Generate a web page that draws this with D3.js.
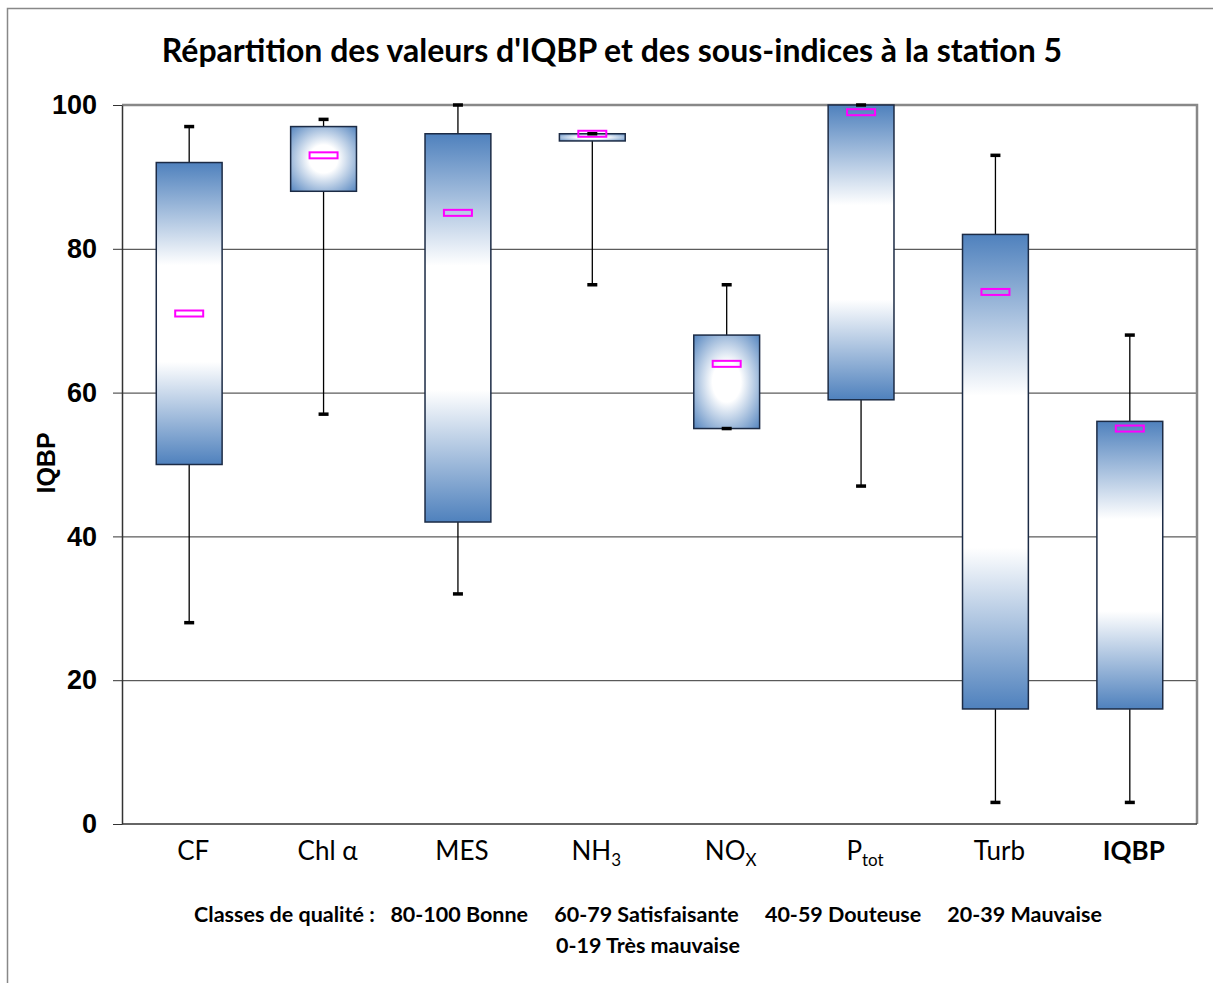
<!DOCTYPE html>
<html>
<head>
<meta charset="utf-8">
<script src="https://cdn.jsdelivr.net/npm/d3@7"></script>
<style>
  body { margin: 0; background: #fff; }
  svg { display: block; }
</style>
</head>
<body>
<div id="chart"></div>
<script>
// data
var categories = ["CF", "Chl α", "MES", "NH3", "NOx", "Ptot", "Turb", "IQBP"];
var whiskerMax = [97, 98, 100, 96, 75, 100, 93, 68];
var q3Values   = [92, 97, 96, 96, 68, 100, 82, 56];
var medians    = [71, 93, 85, 96, 64, 99, 74, 55];
var q1Values   = [50, 88, 42, 95, 55, 59, 16, 16];
var whiskerMin = [28, 57, 32, 75, 55, 47, 3, 3];
var yTicks = [0, 20, 40, 60, 80, 100];

// label pieces: main text, subscript, bold
var labelMain = ["CF", "Chl α", "MES", "NH", "NO", "P", "Turb", "IQBP"];
var labelSub  = ["", "", "", "3", "X", "tot", "", ""];
var labelBold = [false, false, false, false, false, false, false, true];

var width = 1213, height = 983;
var plotLeft = 122, plotRight = 1197, plotTop = 105, plotBottom = 824;
var blue = "#4f81bd";

var svg = d3.select("#chart").append("svg")
    .attr("width", width)
    .attr("height", height);

// outer frame (only left/top visible in picture)
svg.append("path")
    .attr("d", "M7.5," + height + "V8.5H" + width)
    .attr("fill", "none")
    .attr("stroke", "#888")
    .attr("stroke-width", 1.5);

var x = d3.scaleBand()
    .domain(categories)
    .range([plotLeft, plotRight])
    .paddingInner(0.51)
    .paddingOuter(0.255);

var y = d3.scaleLinear()
    .domain([0, 100])
    .range([plotBottom, plotTop]);

// gradients, one per box
var defs = svg.append("defs");
categories.forEach(function (c, i) {
    var w = x.bandwidth();
    var h = y(q1Values[i]) - y(q3Values[i]);
    var g;
    if (h / w > 1.6) {
        g = defs.append("linearGradient")
            .attr("id", "grad" + i)
            .attr("x1", 0).attr("y1", 0).attr("x2", 0).attr("y2", 1);
        g.append("stop").attr("offset", 0).attr("stop-color", blue);
        g.append("stop").attr("offset", 0.34).attr("stop-color", "#fff");
        g.append("stop").attr("offset", 0.66).attr("stop-color", "#fff");
        g.append("stop").attr("offset", 1).attr("stop-color", blue);
    } else {
        g = defs.append("radialGradient")
            .attr("id", "grad" + i)
            .attr("cx", 0.5).attr("cy", 0.5).attr("r", 0.72);
        g.append("stop").attr("offset", 0).attr("stop-color", "#fff");
        g.append("stop").attr("offset", 0.3).attr("stop-color", "#fff");
        g.append("stop").attr("offset", 1).attr("stop-color", blue);
    }
});

// grid lines
svg.append("g")
    .selectAll("line")
    .data(yTicks.filter(function (d) { return d > 0 && d < 100; }))
    .enter().append("line")
    .attr("x1", plotLeft).attr("x2", plotRight)
    .attr("y1", function (d) { return y(d) + 0.5; })
    .attr("y2", function (d) { return y(d) + 0.5; })
    .attr("stroke", "#333")
    .attr("stroke-width", 1);

// plot frame top/right
svg.append("path")
    .attr("d", "M" + plotLeft + "," + plotTop + "H" + plotRight + "V" + plotBottom)
    .attr("fill", "none")
    .attr("stroke", "#888")
    .attr("stroke-width", 2.5);

var boxes = svg.append("g").selectAll("g")
    .data(categories)
    .enter().append("g");

function cx(d) { return x(d) + x.bandwidth() / 2; }

// whiskers
boxes.append("line")
    .attr("x1", cx).attr("x2", cx)
    .attr("y1", function (d, i) { return y(whiskerMax[i]); })
    .attr("y2", function (d, i) { return y(whiskerMin[i]); })
    .attr("stroke", "#000")
    .attr("stroke-width", 1.3);

boxes.append("rect")
    .attr("x", function (d) { return x(d); })
    .attr("y", function (d, i) { return y(q3Values[i]); })
    .attr("width", x.bandwidth())
    .attr("height", function (d, i) { return y(q1Values[i]) - y(q3Values[i]); })
    .attr("fill", function (d, i) { return "url(#grad" + i + ")"; })
    .attr("stroke", "#1c2b45")
    .attr("stroke-width", 1.5);

// median marker
boxes.append("rect")
    .attr("x", function (d) { return cx(d) - 14; })
    .attr("y", function (d, i) { return y(medians[i]) - 3; })
    .attr("width", 28)
    .attr("height", 6)
    .attr("fill", "none")
    .attr("stroke", "#ff00ff")
    .attr("stroke-width", 2);

// whisker caps
[whiskerMax, whiskerMin].forEach(function (arr) {
    boxes.append("line")
        .attr("x1", function (d) { return cx(d) - 5; })
        .attr("x2", function (d) { return cx(d) + 5; })
        .attr("y1", function (d, i) { return y(arr[i]); })
        .attr("y2", function (d, i) { return y(arr[i]); })
        .attr("stroke", "#000")
        .attr("stroke-width", 3.5);
});

// y axis
var yAxis = svg.append("g")
    .attr("transform", "translate(" + plotLeft + ",0)")
    .call(d3.axisLeft(y).tickValues(yTicks).tickSize(9).tickPadding(16).tickSizeOuter(0));
yAxis.select(".domain").attr("stroke", "#333").attr("stroke-width", 1.5);
yAxis.selectAll(".tick line").attr("stroke", "#333");
yAxis.selectAll("text")
    .attr("font-family", "'Liberation Sans', Arial, sans-serif")
    .attr("font-weight", "bold")
    .attr("font-size", 27)
    .attr("fill", "#000");

// x axis line
svg.append("line")
    .attr("x1", plotLeft).attr("x2", plotRight)
    .attr("y1", plotBottom).attr("y2", plotBottom)
    .attr("stroke", "#333")
    .attr("stroke-width", 1.5);

// x labels
var xl = svg.append("g").selectAll("text")
    .data(categories)
    .enter().append("text")
    .attr("x", function (d) { return cx(d) + 4; })
    .attr("y", 860)
    .attr("text-anchor", "middle")
    .attr("font-family", "Lato, sans-serif")
    .attr("font-size", 26)
    .attr("font-weight", function (d, i) { return labelBold[i] ? "bold" : "normal"; })
    .attr("fill", "#000");
xl.append("tspan").text(function (d, i) { return labelMain[i]; });
xl.append("tspan")
    .attr("font-size", 17)
    .attr("dy", 6)
    .text(function (d, i) { return labelSub[i]; });

// y title
svg.append("text")
    .attr("transform", "translate(55,463) rotate(-90)")
    .attr("text-anchor", "middle")
    .attr("font-family", "'Liberation Sans', Arial, sans-serif")
    .attr("font-weight", "bold")
    .attr("font-size", 25)
    .text("IQBP");

// title
svg.append("text")
    .attr("x", 612)
    .attr("y", 62)
    .attr("text-anchor", "middle")
    .attr("font-family", "Lato, sans-serif")
    .attr("font-weight", "bold")
    .attr("font-size", 32)
    .text("Répartition des valeurs d'IQBP et des sous-indices à la station 5");

// quality classes note
var note = svg.append("text")
    .attr("text-anchor", "middle")
    .attr("font-family", "Lato, sans-serif")
    .attr("font-weight", "bold")
    .attr("font-size", 21.5)
    .attr("xml:space", "preserve");
note.append("tspan").attr("x", 648).attr("y", 922)
    .text("Classes de qualité :   80-100 Bonne     60-79 Satisfaisante     40-59 Douteuse     20-39 Mauvaise");
note.append("tspan").attr("x", 648).attr("y", 953)
    .text("0-19 Très mauvaise");
</script>
</body>
</html>
